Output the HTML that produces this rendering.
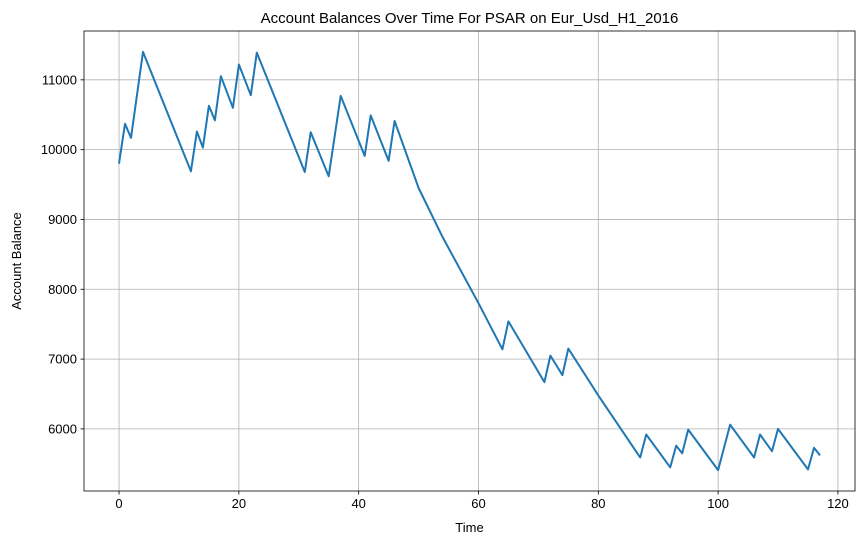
<!DOCTYPE html>
<html><head><meta charset="utf-8"><style>
body{margin:0;background:#fff;width:868px;height:545px;overflow:hidden}
text{font-family:"Liberation Sans","DejaVu Sans",sans-serif;fill:#000}
</style></head><body>
<svg id="chart" width="868" height="545"></svg>
<script>
const xs=[0,1,2,4,12,13,14,15,16,17,19,20,22,23,31,32,35,37,41,42,45,46,50,54,60,64,65,71,72,74,75,80,87,88,92,93,94,95,100,102,106,107,109,110,115,116,117];
const balances=[9800,10370,10170,11400,9690,10260,10030,10630,10420,11050,10600,11220,10780,11390,9680,10250,9620,10770,9910,10490,9840,10410,9450,8750,7800,7140,7540,6670,7050,6770,7150,6480,5590,5920,5450,5760,5650,5990,5410,6060,5590,5920,5680,6000,5420,5730,5620];
const xTicks=[0,20,40,60,80,100,120];
const yTicks=[6000,7000,8000,9000,10000,11000];
const L=84,R=855,T=31,B=491;
const xMin=-5.85,xMax=122.85,yMin=5110.5,yMax=11699.5;
const sx=v=>L+(v-xMin)/(xMax-xMin)*(R-L);
const sy=v=>B-(v-yMin)/(yMax-yMin)*(B-T);
const svg=document.getElementById('chart');
const NS='http://www.w3.org/2000/svg';
function mk(t,a,p){const e=document.createElementNS(NS,t);for(const k in a)e.setAttribute(k,a[k]);(p||svg).appendChild(e);return e;}
xTicks.forEach(v=>{
  const g=mk('line',{x1:sx(v),x2:sx(v),y1:T,y2:B,stroke:'#b0b0b0','stroke-width':0.8});
  
  
  mk('line',{x1:sx(v),x2:sx(v),y1:B,y2:B+3.5,stroke:'#000','stroke-width':0.8});
  const t=mk('text',{x:sx(v),y:B+17,'text-anchor':'middle','font-size':13});
  t.textContent=v;
  
  
});
yTicks.forEach(v=>{
  const g=mk('line',{x1:L,x2:R,y1:sy(v),y2:sy(v),stroke:'#b0b0b0','stroke-width':0.8});
  
  
  mk('line',{x1:L-3.5,x2:L,y1:sy(v),y2:sy(v),stroke:'#000','stroke-width':0.8});
  const t=mk('text',{x:L-7,y:sy(v)+4.5,'text-anchor':'end','font-size':13});
  t.textContent=v;
  
  
});
const pts=xs.map((x,i)=>sx(x).toFixed(1)+','+sy(balances[i]).toFixed(1)).join(' ');
const line=mk('polyline',{points:pts,fill:'none',stroke:'#1f77b4','stroke-width':2,'stroke-linejoin':'round'});


const fr=mk('rect',{x:L,y:T,width:R-L,height:B-T,fill:'none',stroke:'#000','stroke-width':0.8});


const title=mk('text',{x:(L+R)/2,y:T-8,'text-anchor':'middle','font-size':15});
title.textContent='Account Balances Over Time For PSAR on Eur_Usd_H1_2016';


const xl=mk('text',{x:(L+R)/2,y:532,'text-anchor':'middle','font-size':13});
xl.textContent='Time';


const yl=mk('text',{x:21,y:(T+B)/2,'text-anchor':'middle','font-size':13,transform:'rotate(-90 21 '+((T+B)/2)+')'});
yl.textContent='Account Balance';


</script>
</body></html>
